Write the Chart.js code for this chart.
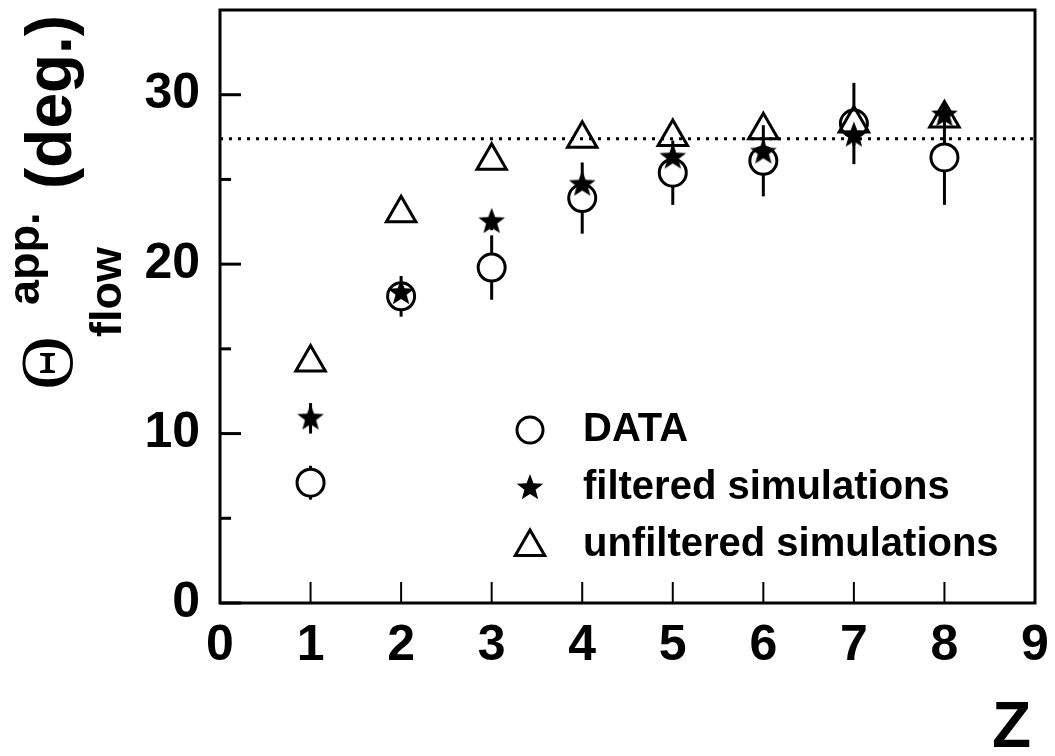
<!DOCTYPE html>
<html>
<head>
<meta charset="utf-8">
<script src="https://cdn.jsdelivr.net/npm/chart.js@4/dist/chart.umd.min.js"></script>
<style>
  html, body { margin: 0; padding: 0; background: #fff; }
</style>
</head>
<body>
<canvas id="flowchart" width="1055" height="756"></canvas>
<script>
// Z values and apparent flow angles (deg.)
var zValues = [1, 2, 3, 4, 5, 6, 7, 8];
var dataTheta = [7.1, 18.1, 19.8, 23.9, 25.4, 26.1, 28.3, 26.3];
var dataErr = [1.0, 1.2, 1.9, 2.1, 1.9, 2.1, 2.4, 2.8];
var filteredTheta = [10.9, 18.3, 22.5, 24.7, 26.3, 26.6, 27.6, 28.8];
var filteredErr = [0.9, 0.6, 0.5, 0.5, 0.5, 0.5, 0.6, 0.6];
var unfilteredTheta = [14.2, 23.0, 26.1, 27.4, 27.5, 27.9, 28.3, 28.6];
var referenceLevel = 27.4;

var xTicks = [0, 1, 2, 3, 4, 5, 6, 7, 8, 9];
var yTicks = [0, 10, 20, 30];
var yMinorTicks = [5, 15, 25];
var legendLabels = ['DATA', 'filtered simulations', 'unfiltered simulations'];

var SANS = '"Liberation Sans", Arial, Helvetica, sans-serif';

function toPoints(ys) {
    return zValues.map(function (z, i) { return { x: z, y: ys[i] }; });
}

function makeStar(r) {
    var c = document.createElement('canvas');
    var s = Math.ceil(r * 2 + 4);
    c.width = s; c.height = s;
    var g = c.getContext('2d');
    g.beginPath();
    for (var i = 0; i < 10; i++) {
        var rr = i % 2 === 0 ? r : r * 0.42;
        var a = -Math.PI / 2 + i * Math.PI / 5;
        g.lineTo(s / 2 + rr * Math.cos(a), s / 2 + rr * Math.sin(a));
    }
    g.closePath();
    g.fillStyle = '#000';
    g.fill();
    return c;
}
var starImg = makeStar(14);

function trianglePath(ctx, x, y, r) {
    ctx.beginPath();
    for (var i = 0; i < 3; i++) {
        var a = i * 2 * Math.PI / 3;
        ctx.lineTo(x + Math.sin(a) * r, y - Math.cos(a) * r);
    }
    ctx.closePath();
}

var errorBars = {
    id: 'errorBars',
    beforeDatasetsDraw: function (chart) {
        var ctx = chart.ctx, xs = chart.scales.x, ys = chart.scales.y;
        ctx.save();
        ctx.strokeStyle = '#000';
        ctx.lineWidth = 3;
        [[dataTheta, dataErr], [filteredTheta, filteredErr]].forEach(function (s) {
            zValues.forEach(function (z, i) {
                var px = xs.getPixelForValue(z);
                ctx.beginPath();
                ctx.moveTo(px, ys.getPixelForValue(s[0][i] - s[1][i]));
                ctx.lineTo(px, ys.getPixelForValue(s[0][i] + s[1][i]));
                ctx.stroke();
            });
        });
        ctx.restore();
    }
};

var frame = {
    id: 'frame',
    beforeDatasetsDraw: function (chart) {
        var ctx = chart.ctx, a = chart.chartArea, xs = chart.scales.x, ys = chart.scales.y;
        ctx.save();
        ctx.strokeStyle = '#000';
        // dotted reference level
        ctx.lineWidth = 3;
        ctx.setLineDash([3, 6]);
        var ly = ys.getPixelForValue(referenceLevel);
        ctx.beginPath();
        ctx.moveTo(a.left, ly);
        ctx.lineTo(a.right, ly);
        ctx.stroke();
        ctx.setLineDash([]);
        // inward ticks
        ctx.lineWidth = 3;
        yTicks.forEach(function (v) {
            var py = ys.getPixelForValue(v);
            ctx.beginPath(); ctx.moveTo(a.left, py); ctx.lineTo(a.left + 21, py); ctx.stroke();
        });
        yMinorTicks.forEach(function (v) {
            var py = ys.getPixelForValue(v);
            ctx.beginPath(); ctx.moveTo(a.left, py); ctx.lineTo(a.left + 11, py); ctx.stroke();
        });
        ctx.lineWidth = 2;
        xTicks.forEach(function (v) {
            var px = xs.getPixelForValue(v);
            ctx.beginPath(); ctx.moveTo(px, a.bottom); ctx.lineTo(px, a.bottom - 21); ctx.stroke();
        });
        ctx.lineWidth = 3;
        ctx.strokeRect(a.left, a.top, a.right - a.left, a.bottom - a.top);
        ctx.restore();
    }
};

function rotatedText(ctx, text, x, y, font, align, baseline) {
    ctx.save();
    ctx.translate(x, y);
    ctx.rotate(-Math.PI / 2);
    ctx.font = font;
    ctx.textAlign = align || 'left';
    ctx.textBaseline = baseline || 'alphabetic';
    ctx.fillText(text, 0, 0);
    ctx.restore();
}

var annotations = {
    id: 'annotations',
    afterDraw: function (chart) {
        var ctx = chart.ctx;
        ctx.save();
        ctx.fillStyle = '#000';
        ctx.strokeStyle = '#000';
        // y axis title
        rotatedText(ctx, '\u0398', 53, 363, '74px "Liberation Serif", "Times New Roman", serif', 'center', 'middle');
        rotatedText(ctx, 'app.', 39, 305, 'bold 45px ' + SANS);
        rotatedText(ctx, 'flow', 121, 337, 'bold 45px ' + SANS);
        rotatedText(ctx, '(deg.)', 71, 189, 'bold 64px ' + SANS);
        // x axis title
        ctx.font = 'bold 64px ' + SANS;
        ctx.textAlign = 'right';
        ctx.textBaseline = 'alphabetic';
        ctx.fillText('Z', 1031, 747);
        // legend
        var lx = 530, ly = [430, 488, 545];
        ctx.lineWidth = 3;
        ctx.beginPath(); ctx.arc(lx, ly[0], 13, 0, 2 * Math.PI); ctx.stroke();
        ctx.drawImage(starImg, lx - starImg.width / 2, ly[1] - starImg.height / 2);
        trianglePath(ctx, lx, ly[2] + 2, 17); ctx.stroke();
        ctx.font = 'bold 40px ' + SANS;
        ctx.textAlign = 'left';
        ctx.textBaseline = 'middle';
        legendLabels.forEach(function (t, i) { ctx.fillText(t, 583, ly[i]); });
        ctx.restore();
    }
};

new Chart(document.getElementById('flowchart').getContext('2d'), {
    type: 'scatter',
    data: {
        datasets: [{
            label: legendLabels[0],
            data: toPoints(dataTheta),
            pointStyle: 'circle',
            pointRadius: 13.5,
            borderWidth: 3,
            borderColor: '#000',
            backgroundColor: '#fff',
            order: 3
        }, {
            label: legendLabels[1],
            data: toPoints(filteredTheta),
            pointStyle: starImg,
            pointRadius: 14,
            borderColor: '#000',
            backgroundColor: '#000',
            order: 2
        }, {
            label: legendLabels[2],
            data: toPoints(unfilteredTheta),
            pointStyle: 'triangle',
            pointRadius: 17,
            borderWidth: 3,
            borderColor: '#000',
            backgroundColor: 'rgba(0,0,0,0)',
            order: 1
        }]
    },
    options: {
        responsive: false,
        animation: false,
        events: [],
        layout: { autoPadding: false, padding: { top: 10, right: 20, left: 0, bottom: 0 } },
        plugins: { legend: { display: false }, tooltip: { enabled: false } },
        scales: {
            x: {
                type: 'linear',
                min: 0,
                max: 9,
                afterBuildTicks: function (s) { s.ticks = xTicks.map(function (v) { return { value: v }; }); },
                afterFit: function (s) { s.height = 153; s.paddingLeft = 0; s.paddingRight = 0; },
                grid: { display: false, drawTicks: false },
                border: { display: false },
                ticks: { color: '#000', padding: 13, font: { family: SANS, size: 50, weight: 'bold' } }
            },
            y: {
                min: 0,
                max: 35,
                afterBuildTicks: function (s) { s.ticks = yTicks.map(function (v) { return { value: v }; }); },
                afterFit: function (s) { s.width = 220; s.paddingTop = 0; s.paddingBottom = 0; },
                grid: { display: false, drawTicks: false },
                border: { display: false },
                ticks: { color: '#000', padding: 20, font: { family: SANS, size: 50, weight: 'bold' } }
            }
        }
    },
    plugins: [frame, errorBars, annotations]
});
</script>
</body>
</html>
